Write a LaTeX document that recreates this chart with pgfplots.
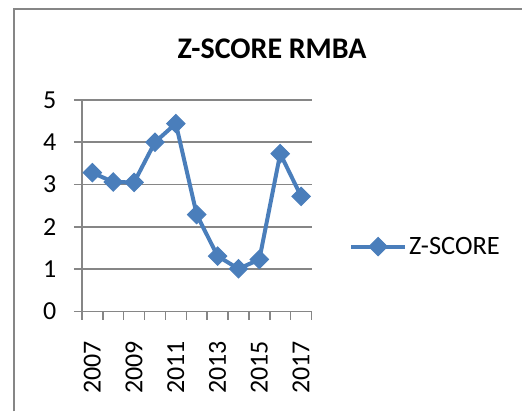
\documentclass[border=0pt]{standalone}
\usepackage{pgfplots}
\pgfplotsset{compat=1.18}
\usepackage{fontspec}
\setmainfont{Carlito}
\definecolor{zblue}{HTML}{4A7EBB}
\definecolor{gridgray}{HTML}{868686}
\begin{document}
\begin{tikzpicture}[x=1pt,y=1pt]
\path (0,0) rectangle (523,412);
\draw[gridgray, line width=1.5pt] (14,0) -- (14,403) -- (523,403);
\node[anchor=base, font=\fontsize{30}{30}\selectfont\bfseries] at (272.5,353) {Z-SCORE RMBA};
\begin{axis}[
  at={(82pt,100pt)}, anchor=south west,
  scale only axis, width=230pt, height=212pt,
  xmin=-0.5, xmax=10.5, ymin=0, ymax=5,
  axis lines=left,
  axis line style={-, draw=gridgray, line width=1.5pt},
  ytick={0,1,...,5},
  ymajorgrids, grid style={gridgray, line width=1.5pt},
  tick align=outside,
  major tick length=8pt,
  tick style={gridgray, line width=1.5pt},
  xtick={-0.5,0.5,...,10.5},
  xticklabels={},
  extra x ticks={0,2,4,6,8,10},
  extra x tick labels={2007,2009,2011,2013,2015,2017},
  extra x tick style={major tick length=0pt, xticklabel style={rotate=90, anchor=east, yshift=0pt, xshift=-26pt}},
  /pgf/number format/assume math mode=true,
  ticklabel style={font=\fontsize{26}{26}\selectfont},
  yticklabel style={anchor=east, xshift=-14pt},
  legend style={at={(1.15,0.307)}, anchor=west, draw=none, fill=none, font=\fontsize{26.5}{26.5}\selectfont},
  legend image code/.code={\draw[mark repeat=2,mark phase=2,#1] plot coordinates {(0pt,0pt) (27pt,0pt) (54pt,0pt)};},
]
\addplot[zblue, line width=4pt, mark=square*, mark size=6.5pt, mark options={rotate=45, line width=1pt, fill=zblue, draw=zblue}]
  coordinates {(0,3.28) (1,3.06) (2,3.05) (3,4.00) (4,4.44) (5,2.29) (6,1.31) (7,1.01) (8,1.23) (9,3.73) (10,2.72)};
\addlegendentry{Z-SCORE}
\end{axis}
\end{tikzpicture}
\end{document}
